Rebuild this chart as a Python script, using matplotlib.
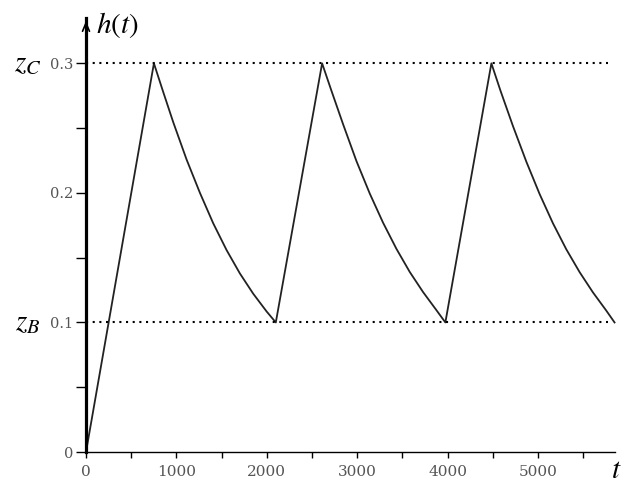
import matplotlib
matplotlib.use('Agg')
import matplotlib.pyplot as plt
from matplotlib.ticker import MultipleLocator

plt.rcParams['mathtext.fontset'] = 'stix'
plt.rcParams['font.family'] = 'DejaVu Serif'

# values: rise, then three fill/drain cycles
t_vals = [0, 751,
          851, 965, 1112, 1260, 1407, 1555, 1702, 1849, 1997, 2099,
          2611,
          2711, 2843, 2991, 3138, 3285, 3433, 3580, 3727, 3875, 3974,
          4483,
          4583, 4722, 4870, 5017, 5164, 5311, 5459, 5606, 5753, 5845]
h_vals = [0.0, 0.300,
          0.2785, 0.2545, 0.2258, 0.2000, 0.1765, 0.1558, 0.1378, 0.1222, 0.1085, 0.100,
          0.300,
          0.2795, 0.2530, 0.2245, 0.1995, 0.1770, 0.1568, 0.1390, 0.1235, 0.1095, 0.100,
          0.300,
          0.2790, 0.2515, 0.2240, 0.1990, 0.1765, 0.1565, 0.1388, 0.1232, 0.1092, 0.100]

z_C = 0.3
z_B = 0.1
dotted_end = 5770

fig = plt.figure(figsize=(6.26, 4.86), dpi=100)
ax = fig.add_axes([86 / 626, 1 - 452 / 486, 529 / 626, 434 / 486])

ax.plot(t_vals, h_vals, color='#222222', lw=1.3, clip_on=False)
ax.hlines([z_C, z_B], 0, dotted_end, colors='black', lw=1.5,
          linestyles=[(0, (1, 2.2))])

ax.set_xlim(0, 5850)
ax.set_ylim(0, 0.335)

ax.spines['top'].set_visible(False)
ax.spines['right'].set_visible(False)
ax.spines['left'].set_linewidth(2.3)
ax.spines['bottom'].set_linewidth(1.0)

ax.xaxis.set_major_locator(MultipleLocator(1000))
ax.xaxis.set_minor_locator(MultipleLocator(500))
ax.yaxis.set_major_locator(MultipleLocator(0.1))
ax.yaxis.set_minor_locator(MultipleLocator(0.05))
ax.set_yticks([0, 0.1, 0.2, 0.3])
ax.set_yticklabels(['0', '0.1', '0.2', '0.3'])

ax.tick_params(axis='x', which='both', direction='out', length=4, width=1,
               pad=5, labelsize=11, labelcolor='#555555')
ax.tick_params(axis='y', which='both', direction='out', length=7, width=1,
               pad=2, labelsize=10.5, labelcolor='#555555')

# arrow on top of the vertical axis
ax.annotate('', xy=(0, 1.0), xytext=(0, 0.96), xycoords='axes fraction',
            arrowprops=dict(arrowstyle='->,head_length=0.6,head_width=0.25',
                            lw=1.2, color='black'))

fig.text(96 / 626, 1 - 25 / 486, r'$h(t)$', fontsize=21, ha='left', va='center')
fig.text(28 / 626, 1 - 63 / 486, r'$z_C$', fontsize=21, ha='center', va='center')
fig.text(28 / 626, 1 - 322 / 486, r'$z_B$', fontsize=21, ha='center', va='center')
fig.text(616 / 626, 1 - 470 / 486, r'$t$', fontsize=21, ha='center', va='center')

fig.savefig('out.png', dpi=100)
